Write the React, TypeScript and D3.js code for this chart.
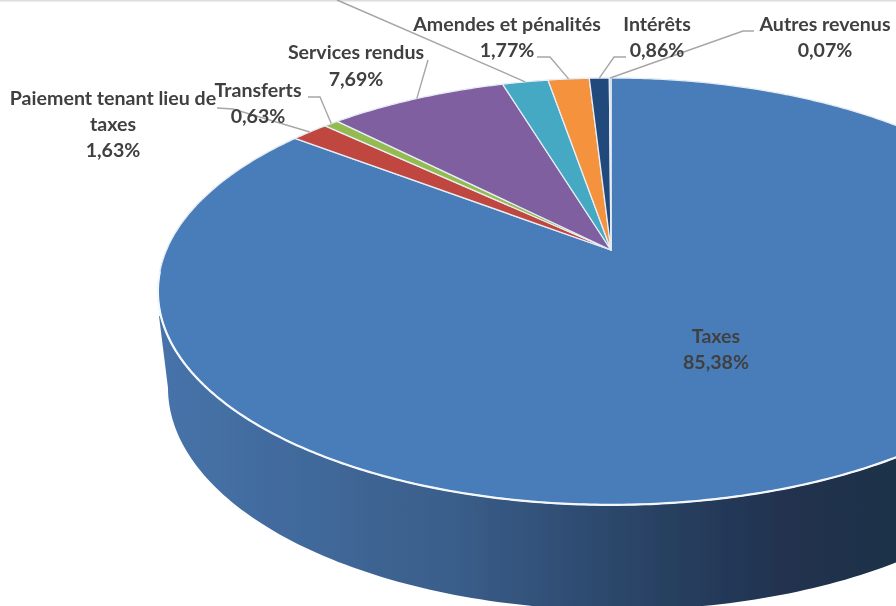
import React from "react";
import * as d3 from "d3";

const W = 896;
const H = 606;

// Data. The label of the fifth slice lies above the frame.
const categories = ["Taxes", "Paiement tenant lieu de taxes", "Transferts", "Services rendus", "", "Amendes et pénalités", "Intérêts", "Autres revenus"];
const values = [85.38, 1.63, 0.63, 7.69, 1.97, 1.77, 0.86, 0.07];
const colors = ["#4a7dba", "#c0463f", "#93bb50", "#7f5f9f", "#45a9c4", "#f4923e", "#234a7c", "#9fc3e6"];

type Lab = { i: number; lines: string[]; x: number; y: number[]; leader: number[][] };
const labels: Lab[] = [
  { i: 0, lines: ["Taxes", "85,38%"], x: 716, y: [343, 369], leader: [] },
  { i: 1, lines: ["Paiement tenant lieu de", "taxes", "1,63%"], x: 113, y: [105, 131, 157], leader: [[217, 108], [233, 109]] },
  { i: 2, lines: ["Transferts", "0,63%"], x: 258, y: [97, 123], leader: [[308, 97], [320, 97]] },
  { i: 3, lines: ["Services rendus", "7,69%"], x: 356, y: [59, 86], leader: [[428, 60]] },
  { i: 4, lines: [], x: 0, y: [], leader: [[337, 0]] },
  { i: 5, lines: ["Amendes et pénalités", "1,77%"], x: 507, y: [31, 57], leader: [[537, 57], [550, 57]] },
  { i: 6, lines: ["Intérêts", "0,86%"], x: 657, y: [31, 57], leader: [[626, 57], [614, 57]] },
  { i: 7, lines: ["Autres revenus", "0,07%"], x: 825, y: [31, 57], leader: [[754, 31], [743, 31]] },
];

const wallStops = [
  [0, "#4673aa"],
  [0.2, "#41699b"],
  [0.4, "#3a5e8a"],
  [0.58, "#2e4b70"],
  [0.72, "#263d5d"],
  [0.85, "#20324f"],
  [1, "#1f3049"],
];

// Perspective projection of the unit circle of the pie on the page
const apex = { x: 611, y: 250 };
const persp = -0.194;
const scaleU = 444.5;
const scaleV = 205.4;
const project = (angle: number, r = 1): [number, number] => {
  const u = Math.sin(angle) * r;
  const v = -Math.cos(angle) * r;
  const d = 1 + persp * v;
  return [apex.x + (scaleU * u) / d, apex.y + (scaleV * v) / d];
};

const pie = d3.pie<number>().sort(null).startAngle(0).endAngle(2 * Math.PI);
const arcs = pie(values);
const line = d3.line();

const slicePath = (a0: number, a1: number) => {
  const n = Math.max(2, Math.ceil((a1 - a0) / 0.01));
  const angles = d3.range(n + 1).map((k) => a0 + ((a1 - a0) * k) / n);
  return line([[apex.x, apex.y], ...angles.map((t) => project(t))]) + "Z";
};

// Bottom rim of the side wall
const bottom = { x: 618, y: 388, rx: 450, ry: 222 };
const topLeft: [number, number] = [159, 316];
const wallPath = () => {
  const pts: [number, number][] = [topLeft];
  for (const t of d3.range(Math.PI, -0.001, -0.02)) {
    pts.push([bottom.x + bottom.rx * Math.cos(t), bottom.y + bottom.ry * Math.sin(t)]);
  }
  return line(pts) + "Z";
};

const outlineAngles = d3.range(0, 2 * Math.PI + 0.01, 0.01);
const rimAngles = d3.range(1.0, 4.62, 0.01);

export default function App() {
  const xG = d3.scaleLinear().domain([0, 1]).range([158, W]);
  return (
    <svg
      width={W}
      height={H}
      viewBox={`0 0 ${W} ${H}`}
      style={{ position: "fixed", left: 0, top: 0, background: "#fff" }}
      fontFamily="Lato, 'Open Sans', sans-serif"
    >
      <defs>
        <linearGradient id="wall" gradientUnits="userSpaceOnUse" x1={xG(0)} x2={xG(1)} y1={0} y2={0}>
          {wallStops.map(([o, c]) => (
            <stop key={o as number} offset={o as number} stopColor={c as string} />
          ))}
        </linearGradient>
        <filter id="soft" x="-5%" y="-5%" width="110%" height="110%">
          <feGaussianBlur stdDeviation={0.35} />
        </filter>
      </defs>
      <g filter="url(#soft)">
        <rect x={0} y={0} width={W} height={1.5} fill="#dcdcdc" />
        <path d={wallPath()} fill="url(#wall)" />
        <path d={line(outlineAngles.map((t) => project(t))) + "Z"} fill="#4a7dba" stroke="#eef3f9" strokeWidth={1} />
        {arcs.map((a, i) => (
          <path
            key={categories[i] + i}
            d={slicePath(a.startAngle, a.endAngle)}
            fill={colors[i]}
            stroke="#e6edf5"
            strokeWidth={1.3}
            strokeLinejoin="round"
          />
        ))}
        <path d={line(rimAngles.map((t) => project(t))) ?? ""} fill="none" stroke="#f4f7fb" strokeWidth={2.2} />
        {labels.map((l) => {
          const a = arcs[l.i];
          const end = project((a.startAngle + a.endAngle) / 2);
          return l.leader.length ? (
            <path
              key={"lead" + l.i}
              d={line([...(l.leader as [number, number][]), end]) ?? ""}
              fill="none"
              stroke="#a6a6a6"
              strokeWidth={1.4}
            />
          ) : null;
        })}
        {labels.flatMap((l) =>
          l.lines.map((t, k) => (
            <text
              key={l.i + "-" + k}
              x={l.x}
              y={l.y[k]}
              textAnchor="middle"
              fontSize={19.6}
              fontWeight={700}
              fill="#404040"
            >
              {t}
            </text>
          ))
        )}
      </g>
    </svg>
  );
}
